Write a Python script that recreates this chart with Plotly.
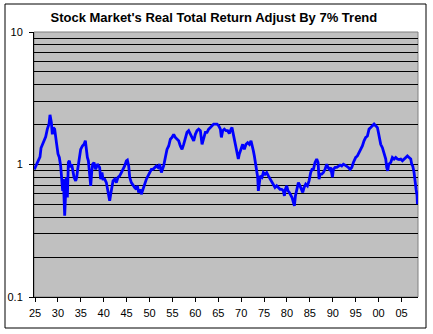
import plotly.graph_objects as go

# Real total return of the stock market, divided by a 7% per-year trend line
years = [
    1924.85, 1925.14, 1925.51, 1925.87, 1926.09, 1926.31, 1926.60, 1926.96, 1927.33, 1927.69,
    1928.06, 1928.27, 1928.57, 1928.78, 1929.00, 1929.29, 1929.51, 1929.73, 1930.02, 1930.31,
    1930.60, 1930.82, 1931.04, 1931.19, 1931.33, 1931.48, 1931.70, 1931.84, 1932.06, 1932.28,
    1932.50, 1932.79, 1933.01, 1933.30, 1933.52, 1933.88, 1934.10, 1934.32, 1934.61, 1934.97,
    1935.34, 1935.70, 1935.99, 1936.21, 1936.43, 1936.65, 1936.86, 1937.16, 1937.37, 1937.59,
    1937.88, 1938.25, 1938.61,
    1939.11, 1939.33, 1939.62, 1939.84, 1940.21, 1940.57, 1940.79, 1941.08, 1941.30, 1941.52,
    1941.81, 1942.03, 1942.39, 1942.75, 1943.12, 1943.48, 1943.85, 1944.21, 1944.57, 1944.94,
    1945.16, 1945.45, 1945.67, 1946.03, 1946.39, 1946.76, 1947.12, 1947.34, 1947.63, 1947.92,
    1948.21, 1948.58, 1948.94, 1949.31, 1949.67, 1950.03, 1950.40, 1950.76, 1951.13, 1951.49,
    1951.85, 1952.22, 1952.58,
    1953.08, 1953.45, 1953.81, 1954.18, 1954.54, 1954.90, 1955.27, 1955.63, 1956.00, 1956.36,
    1956.72, 1957.09, 1957.45, 1957.82, 1958.18, 1958.54, 1958.91, 1959.27, 1959.64, 1960.00,
    1960.36, 1960.73, 1961.09, 1961.46, 1961.82, 1962.18, 1962.55, 1962.91, 1963.28, 1963.64,
    1964.00, 1964.37, 1964.73, 1965.10, 1965.46, 1965.68, 1965.97, 1966.33,
    1966.69, 1967.05, 1967.42, 1967.78, 1968.00, 1968.29, 1968.51, 1968.87, 1969.09, 1969.38,
    1969.60, 1969.97, 1970.33, 1970.69, 1971.06, 1971.42, 1971.79, 1972.15, 1972.37, 1972.66,
    1972.88, 1973.10, 1973.39, 1973.61, 1973.75, 1973.97, 1974.19, 1974.55, 1974.84, 1975.21,
    1975.57, 1975.94, 1976.30, 1976.66, 1977.03, 1977.39, 1977.76, 1978.12, 1978.48, 1978.85,
    1979.21, 1979.43, 1979.65, 1979.94, 1980.23, 1980.52,
    1980.89, 1981.11, 1981.40, 1981.62, 1981.84, 1982.13, 1982.49, 1982.85, 1983.22, 1983.44,
    1983.73, 1984.09, 1984.46, 1984.82, 1985.18, 1985.47, 1985.77, 1986.13, 1986.49, 1986.79,
    1987.00, 1987.22, 1987.59, 1987.95, 1988.31, 1988.68, 1988.97, 1989.26, 1989.55, 1989.92,
    1990.13, 1990.50, 1990.86, 1991.23, 1991.59, 1991.95, 1992.32, 1992.68, 1993.05, 1993.41,
    1993.77, 1994.14, 1994.50,
    1995.00, 1995.37, 1995.73, 1996.10, 1996.46, 1996.82, 1997.19, 1997.55, 1997.92, 1998.28,
    1998.64, 1999.01, 1999.37, 1999.74, 1999.95, 2000.25, 2000.46, 2000.83, 2001.19, 2001.56,
    2001.77, 2001.99, 2002.21, 2002.65, 2003.01, 2003.38, 2003.74, 2004.10, 2004.47, 2004.83,
    2005.20, 2005.56, 2005.92, 2006.29, 2006.65, 2007.02, 2007.23, 2007.45, 2007.74, 2007.96,
    2008.18, 2008.40, 2008.47,
]

ratio = [
    0.92, 0.975, 1.035, 1.10, 1.14, 1.33, 1.42, 1.55, 1.62, 1.85,
    2.02, 2.37, 2.08, 1.69, 1.90, 1.85, 1.51, 1.42, 1.20, 1.13,
    0.975, 0.80, 0.633, 0.775, 0.474, 0.41, 0.633, 0.80, 0.564, 1.035,
    1.066, 0.95, 1.006, 0.845, 0.80, 0.753, 0.80, 0.92, 1.10, 1.30,
    1.38, 1.42, 1.51, 1.27, 1.13, 1.066, 0.896, 0.69, 0.87, 1.006,
    1.035, 0.92, 1.006,
    0.95, 0.775, 0.87, 0.775, 0.775, 0.73, 0.67, 0.564, 0.532, 0.597,
    0.69, 0.753, 0.775, 0.73, 0.80, 0.82, 0.87, 0.92, 0.975, 1.066,
    1.08, 0.975, 0.80, 0.73, 0.69, 0.67, 0.65, 0.69, 0.615, 0.65,
    0.597, 0.65, 0.73, 0.775, 0.82, 0.87, 0.92, 0.92, 0.95, 0.975,
    0.95, 1.006, 0.87,
    0.975, 1.13, 1.30, 1.38, 1.55, 1.60, 1.69, 1.60, 1.55, 1.51,
    1.38, 1.30, 1.42, 1.60, 1.75, 1.80, 1.69, 1.60, 1.51, 1.69,
    1.80, 1.85, 1.80, 1.42, 1.55, 1.75, 1.75, 1.85, 1.90, 1.96,
    2.02, 2.02, 2.02, 1.96, 1.85, 1.60, 1.80, 1.85,
    1.80, 1.80, 1.71, 1.85, 1.90, 1.69, 1.55, 1.42, 1.30, 1.10,
    1.20, 1.34, 1.42, 1.30, 1.42, 1.46, 1.42, 1.51, 1.42, 1.27,
    1.16, 1.035, 0.92, 0.80, 0.633, 0.711, 0.82, 0.80, 0.87, 0.845,
    0.87, 0.82, 0.775, 0.73, 0.69, 0.67, 0.69, 0.67, 0.65, 0.65,
    0.633, 0.58, 0.65, 0.69, 0.633, 0.615,
    0.59, 0.564, 0.517, 0.488, 0.58, 0.65, 0.73, 0.69, 0.65, 0.615,
    0.67, 0.711, 0.69, 0.753, 0.87, 0.92, 0.92, 1.035, 1.10, 1.035,
    0.775, 0.845, 0.845, 0.87, 0.92, 1.006, 0.95, 0.92, 0.95, 0.80,
    0.92, 0.95, 0.95, 0.975, 0.99, 0.975, 1.006, 0.99, 0.975, 0.95,
    0.92, 0.95, 1.035,
    1.13, 1.16, 1.23, 1.30, 1.38, 1.51, 1.60, 1.64, 1.85, 1.90,
    1.96, 2.02, 1.96, 1.90, 1.75, 1.55, 1.42, 1.34, 1.23, 1.10,
    0.95, 0.896, 1.006, 1.035, 1.13, 1.10, 1.13, 1.10, 1.09, 1.10,
    1.066, 1.10, 1.13, 1.16, 1.13, 1.10, 1.006, 0.975, 0.87, 0.711,
    0.65, 0.58, 0.502,
]

x_tick_years = list(range(1925, 2010, 5))
x_tick_labels = ["25", "30", "35", "40", "45", "50", "55", "60", "65",
                 "70", "75", "80", "85", "90", "95", "00", "05"]
y_tick_values = [0.1, 1, 10]
y_tick_labels = ["0.1", "1", "10"]
y_grid_values = [0.2, 0.3, 0.4, 0.5, 0.6, 0.7, 0.8, 0.9,
                 2, 3, 4, 5, 6, 7, 8, 9]

FONT = "Liberation Sans, Arial, sans-serif"

fig = go.Figure(
    go.Scatter(
        x=years,
        y=ratio,
        mode="lines",
        line=dict(color="#0000FF", width=2.8),
        hoverinfo="x+y",
    )
)

fig.update_layout(
    width=433,
    height=334,
    margin=dict(l=34, r=15, t=32, b=37),
    paper_bgcolor="white",
    plot_bgcolor="#C0C0C0",
    showlegend=False,
    font=dict(family=FONT, size=11, color="black"),
    title=dict(
        text="<b>Stock Market's Real Total Return Adjust By 7% Trend</b>",
        font=dict(family=FONT, size=13, color="black"),
        x=0.494, xanchor="center",
        y=1 - 17.5 / 334, yanchor="middle",
        xref="container", yref="container",
    ),
    shapes=[
        # plot-area frame
        dict(type="rect", xref="paper", yref="paper", x0=0, x1=1, y0=0, y1=1,
             line=dict(color="#808080", width=1), layer="below"),
        # chart-area border
        dict(type="rect", xref="paper", yref="paper",
             x0=(5 - 34) / 384, x1=(426 - 34) / 384,
             y0=(297 - 328) / 265, y1=(297 - 4) / 265,
             line=dict(color="black", width=1)),
    ],
)

fig.update_xaxes(
    range=[1924.78, 2008.6],
    tickmode="array",
    tickvals=x_tick_years,
    ticktext=x_tick_labels,
    ticks="outside",
    ticklen=4,
    tickcolor="black",
    showline=True,
    linecolor="black",
    linewidth=1,
    showgrid=False,
    zeroline=False,
    automargin=False,
    ticklabelstandoff=2,
    tickfont=dict(family=FONT, size=11, color="black"),
)

fig.update_yaxes(
    type="log",
    range=[-1, 1],
    tickmode="array",
    tickvals=y_tick_values,
    ticktext=y_tick_labels,
    ticks="outside",
    ticklen=4,
    tickcolor="black",
    showline=True,
    linecolor="black",
    linewidth=1,
    showgrid=True,
    gridcolor="black",
    gridwidth=1,
    zeroline=False,
    automargin=False,
    ticklabelstandoff=4,
    tickfont=dict(family=FONT, size=11, color="black"),
    minor=dict(
        tickmode="array",
        tickvals=y_grid_values,
        showgrid=True,
        gridcolor="black",
        gridwidth=1,
        ticks="",
    ),
)

fig.write_html("out.html")
